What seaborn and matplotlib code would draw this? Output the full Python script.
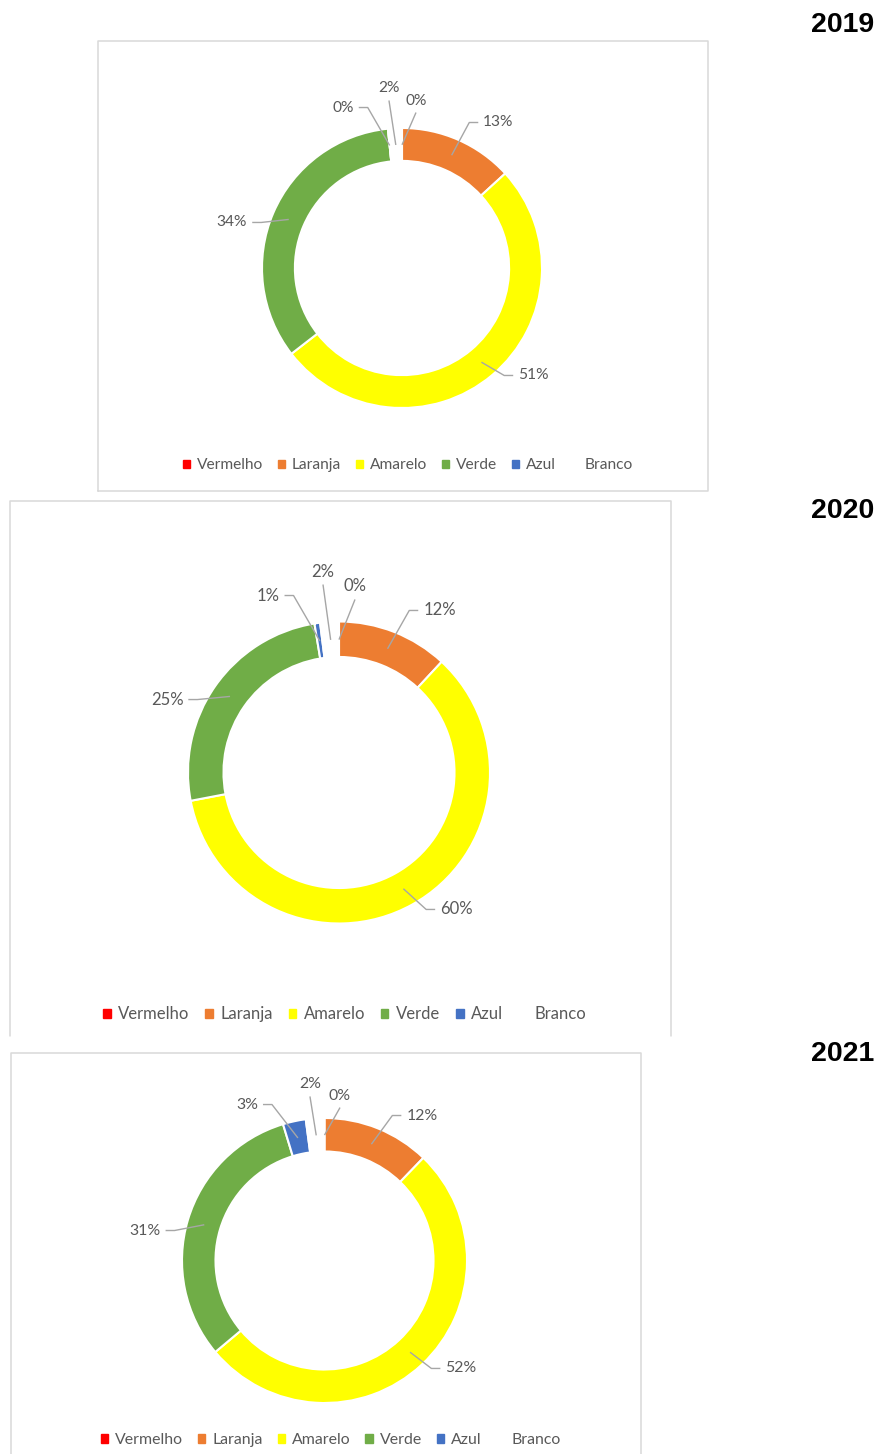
import matplotlib
matplotlib.use("Agg")
import matplotlib.pyplot as plt
from matplotlib.patches import Patch
from matplotlib.lines import Line2D
import numpy as np
import seaborn as sns

# Data (percent shares)
categories = ["Vermelho", "Laranja", "Amarelo", "Verde", "Azul", "Branco"]
years = ["2019", "2020", "2021"]
values_2019 = [0.0, 13.2, 51.3, 33.9, 0.0, 1.6]
values_2020 = [0.0, 11.9, 60.1, 25.4, 0.6, 2.0]
values_2021 = [0.0, 12.2, 51.7, 31.4, 2.6, 2.1]
all_values = [values_2019, values_2020, values_2021]

palette = ["#FF0000", "#ED7D31", "#FFFF00", "#70AD47", "#4472C4", "#FFFFFF"]

sns.set_theme(style="white")
plt.rcParams["font.family"] = ["Lato", "DejaVu Sans"]

W, H = 877, 1454
TXT = "#595959"
LEAD = "#a6a6a6"
BOX = "#d9d9d9"

# layout in pixels of the target picture
layout = {
    "2019": dict(center=(402, 268), r=140, fs=11.2, legend=(0.04, -1.41),
                 box=(98, 41, 708, 491), closed=True, year_y=25),
    "2020": dict(center=(339, 772.5), r=151, fs=12, legend=(0.036, -1.60),
                 box=(10, 501, 671, 1036), closed=False, year_y=511),
    "2021": dict(center=(324.5, 1260.5), r=142.5, fs=11.4, legend=(0.042, -1.262),
                 box=(11, 1053, 641, 1460), closed=False, year_y=1054),
}
# label centres in units of the outer radius, plus side of the leader line
label_pos = {
    "2019": [(0.10, 1.207, "b"), (0.689, 1.05, "r"), (0.939, -0.757, "r"),
             (-1.214, 0.336, "l"), (-0.421, 1.157, "l"), (-0.093, 1.293, "b")],
    "2020": [(0.106, 1.242, "b"), (0.666, 1.083, "r"), (0.778, -0.897, "r"),
             (-1.139, 0.493, "l"), (-0.47, 1.182, "l"), (-0.106, 1.341, "b")],
    "2021": [(0.109, 1.168, "b"), (0.684, 1.028, "r"), (0.958, -0.747, "r"),
             (-1.26, 0.221, "l"), (-0.544, 1.105, "l"), (-0.102, 1.246, "b")],
}


def fx(x):
    return x / W


def fy(y):
    return 1 - y / H


fig = plt.figure(figsize=(W / 100, H / 100), dpi=100)
fig.patch.set_facecolor("white")

S = 1.8
panels = []
for year, vals in zip(years, all_values):
    lay = layout[year]
    cx, cy = lay["center"]
    r = lay["r"]
    ax = fig.add_axes([fx(cx - S * r), fy(cy + S * r), 2 * S * r / W, 2 * S * r / H])
    wedges, _ = ax.pie(vals, colors=palette, startangle=90, counterclock=False, radius=1,
                       wedgeprops=dict(width=0.235, edgecolor="white", linewidth=1.5))
    ax.set_xlim(-S, S)
    ax.set_ylim(-S, S)
    ax.axis("off")
    ax.patch.set_visible(False)

    texts = []
    for v, (tx, ty, side) in zip(vals, label_pos[year]):
        t = ax.text(tx, ty, f"{round(v)}%", ha="center", va="center_baseline",
                    fontsize=lay["fs"], color=TXT)
        texts.append(t)

    handles = [Patch(facecolor=c, edgecolor=c) for c in palette]
    ax.legend(handles=handles, labels=categories, loc="center",
              bbox_to_anchor=lay["legend"], bbox_transform=ax.transData,
              ncol=6, frameon=False, handlelength=0.45, handleheight=0.45,
              handletextpad=0.45, columnspacing=0.95, fontsize=lay["fs"],
              labelcolor=TXT, borderpad=0)
    panels.append((ax, wedges, texts, year))

    # frame around the chart
    x0, y0, x1, y1 = lay["box"]
    xs = [fx(x0), fx(x0), fx(x1), fx(x1)]
    ys = [fy(y1), fy(y0), fy(y0), fy(y1)]
    if lay["closed"]:
        xs.append(fx(x0))
        ys.append(fy(y1))
    fig.add_artist(Line2D(xs, ys, transform=fig.transFigure, color=BOX, lw=1.1, zorder=0))

    fig.text(fx(874), fy(lay["year_y"]), year, ha="right", va="center",
             fontsize=20.5, fontweight="bold", family="Liberation Sans", color="black")

# leader lines, computed from the rendered label extents
fig.canvas.draw()
renderer = fig.canvas.get_renderer()
for ax, wedges, texts, year in panels:
    r = layout[year]["r"]
    gap, seg = 5 / r, 9 / r
    inv = ax.transData.inverted()
    for w, t, (tx, ty, side) in zip(wedges, texts, label_pos[year]):
        mid = np.deg2rad((w.theta1 + w.theta2) / 2)
        axp, ayp = 0.88 * np.cos(mid), 0.88 * np.sin(mid)
        bb = t.get_window_extent(renderer).transformed(inv)
        ym = (bb.y0 + bb.y1) / 2
        if side == "r":
            px = [axp, bb.x0 - gap - seg, bb.x0 - gap]
            py = [ayp, ym, ym]
        elif side == "l":
            px = [axp, bb.x1 + gap + seg, bb.x1 + gap]
            py = [ayp, ym, ym]
        else:
            px = [axp, tx]
            py = [ayp, bb.y0 - gap]
        ax.plot(px, py, color=LEAD, lw=1.0, solid_capstyle="butt", zorder=5)

fig.savefig("out.png", dpi=100, facecolor="white")
